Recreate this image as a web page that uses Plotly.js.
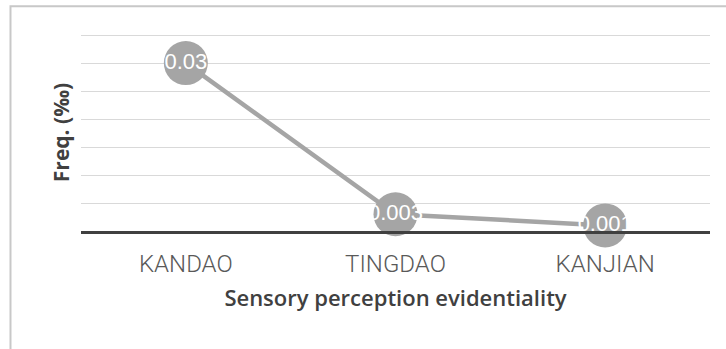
<!DOCTYPE html>
<html>
<head>
<meta charset="utf-8">
<script src="https://cdn.plot.ly/plotly-3.0.1.min.js"></script>
<style>
  html, body { margin: 0; padding: 0; background: #ffffff; }
  #chart { width: 726px; height: 349px; }
</style>
</head>
<body>
<div id="chart"></div>
<script>
// Frequency (per mille) of each sensory perception evidential marker
const categories = ['KANDAO', 'TINGDAO', 'KANJIAN'];
const freqValues = [0.03, 0.003, 0.001];
const valueLabels = ['0.03', '0.003', '0.001'];

const grey = '#a5a5a5';
const textGrey = '#595959';

const trace = {
  type: 'scatter',
  mode: 'lines+markers+text',
  x: categories,
  y: freqValues,
  text: valueLabels,
  textposition: 'middle center',
  textfont: { family: 'Liberation Sans, Arial, sans-serif', size: 22, color: '#ffffff' },
  line: { color: grey, width: 4.5 },
  marker: { color: grey, size: 44 },
  cliponaxis: false,
  hoverinfo: 'skip'
};

const layout = {
  width: 726,
  height: 349,
  margin: { l: 81, r: 16, t: 34, b: 118 },
  paper_bgcolor: '#ffffff',
  plot_bgcolor: '#ffffff',
  showlegend: false,
  xaxis: {
    type: 'category',
    showgrid: false,
    showline: true,
    linecolor: '#404040',
    linewidth: 3,
    ticks: '',
    tickfont: { family: 'Roboto, sans-serif', size: 24, color: textGrey, weight: 300 },
    ticklabelstandoff: 9,
    title: {
      text: 'Sensory perception evidentiality',
      font: { family: 'Open Sans, sans-serif', size: 22, color: '#404040', weight: 600 },
      standoff: 14
    },
    range: [-0.5, 2.5],
    fixedrange: true
  },
  yaxis: {
    // upper bound just above the last 0.005 step so its gridline is kept
    range: [0, 0.0352],
    dtick: 0.005,
    tick0: 0,
    showticklabels: false,
    ticks: '',
    showgrid: true,
    gridcolor: '#d9d9d9',
    gridwidth: 1,
    zeroline: false,
    showline: false,
    title: {
      text: 'Freq. (‰)',
      font: { family: 'Open Sans, sans-serif', size: 21, color: '#404040', weight: 700 },
      standoff: 4
    },
    fixedrange: true
  },
  shapes: [
    {
      type: 'rect',
      xref: 'paper', yref: 'paper',
      x0: -0.1121, x1: 1.05, y0: -0.7, y1: 1.1414,
      line: { color: '#c8c8c8', width: 2 },
      fillcolor: 'rgba(0,0,0,0)',
      layer: 'below'
    }
  ]
};

Plotly.newPlot('chart', [trace], layout, { displayModeBar: false, staticPlot: true });
</script>
</body>
</html>
